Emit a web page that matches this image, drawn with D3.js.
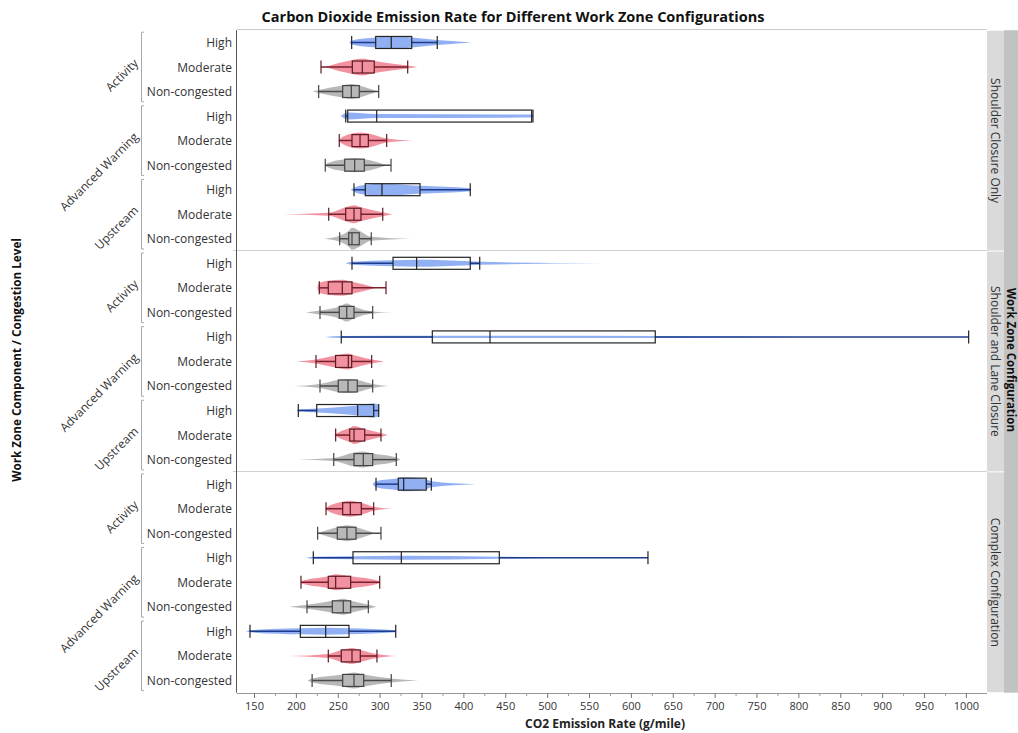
<!DOCTYPE html>
<html><head><meta charset="utf-8">
<script src="https://cdn.jsdelivr.net/npm/d3@7"></script>
<style>body{margin:0;background:#fff} svg text{font-family:"Open Sans",sans-serif;}</style>
</head><body><svg id="c" width="1018" height="733"></svg>
<script>
const configs = ["Shoulder Closure Only", "Shoulder and Lane Closure", "Complex Configuration"];
const components = ["Activity", "Advanced Warning", "Upstream"];
const levels = ["High", "Moderate", "Non-congested"];
// rows ordered: configuration > component > congestion level
const whiskerLow = [266.6, 230.0, 227.2, 259.5, 251.8, 235.1, 269.4, 239.2, 252.3,
                    267.0, 228.0, 228.8, 254.2, 224.0, 228.8, 202.9, 247.5, 245.2,
                    295.7, 236.0, 226.0, 220.8, 206.1, 213.3, 145.2, 238.7, 219.4];
const q1 = [295.3, 267.4, 255.9, 261.9, 267.0, 258.3, 282.9, 259.5, 263.1,
            316.0, 238.7, 251.8, 362.9, 247.4, 250.6, 224.9, 264.3, 269.4,
            322.3, 255.9, 249.5, 268.2, 238.7, 243.5, 205.3, 254.2, 255.9];
const median = [313.9, 279.3, 266.2, 296.5, 276.6, 270.2, 302.8, 269.4, 267.0,
                344.2, 255.4, 260.7, 431.8, 262.6, 262.2, 273.8, 269.4, 280.5,
                328.7, 265.0, 261.0, 325.9, 247.5, 256.6, 235.6, 267.0, 269.4];
const q3 = [338.3, 293.6, 275.7, 481.5, 286.5, 281.7, 348.2, 277.7, 275.7,
            408.2, 267.0, 269.4, 629.1, 266.6, 273.3, 292.9, 282.2, 291.7,
            355.7, 278.1, 271.8, 442.9, 265.4, 265.4, 263.4, 276.9, 281.0];
const whiskerHigh = [368.8, 333.5, 298.9, 483.1, 308.4, 313.6, 408.2, 303.7, 290.0,
                     419.5, 307.6, 291.7, 1003.3, 290.5, 291.7, 298.9, 301.6, 319.9,
                     361.7, 292.9, 301.6, 620.4, 300.1, 286.5, 319.2, 296.8, 313.9];
const violinMin = [264, 235, 220, 253.5, 250.6, 235, 265.4, 185, 234,
                   259.5, 225.6, 212.1, 234.8, 200.1, 196.9, 201, 245.9, 202.9,
                   291.7, 234.8, 226, 212.9, 205.8, 192.1, 140.1, 192.1, 214];
const violinMax = [410, 345, 297, 482, 340, 309, 409, 315, 338,
                   568, 296, 315.1, 800, 305.2, 310.3, 299.5, 309.6, 325.1,
                   414.7, 314.4, 294, 520, 301, 296.5, 320, 319.2, 346.2];
// relative density read at [whiskerLow, q1, median, q3, whiskerHigh]
const violinDensity = [
  [2, 5, 6.5, 5, 2.5], [1.5, 7, 8.5, 6, 1.5], [1.5, 6, 7.5, 6, 1], [3, 3.5, 2, 1.5, 1], [1, 7, 8, 7, 2], [1, 6, 7, 6, 1], [2, 5, 6, 4, 1.5], [1.5, 7, 9, 7, 2], [3, 8, 11, 8, 2],
  [1.5, 3, 3.5, 2, 1.5], [5, 7, 8, 6, 1], [2, 6, 9, 6, 1], [1, 1.2, 1.2, 1, 0.5], [2, 6, 8, 7, 2], [2, 6, 7, 6, 2], [1, 2, 5, 7, 6], [1, 7, 9, 6, 2], [1.5, 7, 8, 6, 2],
  [3, 6, 7, 5, 3], [1, 7, 8, 6, 2], [1, 6, 8, 6, 1], [1, 1.5, 2, 1, 0.5], [1, 6, 8, 6, 1], [2, 6, 8, 6, 2], [1, 3, 3.5, 3, 1], [2, 6, 8, 6, 2], [2, 6, 8, 6, 2]
];
const xTickValues = [150, 200, 250, 300, 350, 400, 450, 500, 550, 600, 650, 700, 750, 800, 850, 900, 950, 1000];
const xMinorTicks = [175, 225, 275, 325, 375, 425, 475, 525, 575, 625, 675, 725, 775, 825, 875, 925, 975];

const W = 1018, H = 733;
const M = {left: 237, right: 987, top: 30.2, bottom: 692.7};
const svg = d3.select("#c");

const levelFill = {"High": "#7ea2f2", "Moderate": "#f07f8f", "Non-congested": "#acacac"};
const levelWhisker = {"High": "#1d3b8c", "Moderate": "#7a1f2b", "Non-congested": "#4a4a4a"};
const levelBox = {"High": "#222222", "Moderate": "#5c1a22", "Non-congested": "#444444"};

const x = d3.scaleLinear().domain([129.7, 1025.2]).range([M.left, M.right]);
const panelY = d3.scaleBand().domain(configs).range([M.top, M.bottom]);
const rowKeys = [];
components.forEach(c => levels.forEach(l => rowKeys.push(c + "|" + l)));
const rowY = d3.scaleBand().domain(rowKeys).range([0, panelY.bandwidth()]);
const dens = d3.scaleLinear().domain([0, 11]).range([0, 11]);

const rows = [];
configs.forEach((cf, ci) => components.forEach((cp, gi) => levels.forEach((lv, li) => {
  const i = ci * 9 + gi * 3 + li;
  rows.push({i, cf, cp, lv, cy: panelY(cf) + rowY(cp + "|" + lv) + rowY.bandwidth() / 2});
})));

// title
svg.append("text").attr("x", 513).attr("y", 22).attr("text-anchor", "middle")
  .style("font-weight", "bold").style("font-size", "14.5px").attr("fill", "#111")
  .text("Carbon Dioxide Emission Rate for Different Work Zone Configurations");

// frame
svg.append("line").attr("x1", M.left).attr("x2", M.right).attr("y1", M.top - 0.7).attr("y2", M.top - 0.7).attr("stroke", "#c8c8c8");
configs.slice(1).forEach(cf => {
  const yy = Math.round(panelY(cf)) - 0.5;
  svg.append("line").attr("x1", 233).attr("x2", M.right).attr("y1", yy).attr("y2", yy).attr("stroke", "#d0d0d0");
});

// clip
svg.append("clipPath").attr("id", "pc").append("rect").attr("x", M.left).attr("y", M.top).attr("width", M.right - M.left).attr("height", M.bottom - M.top);
const g = svg.append("g").attr("clip-path", "url(#pc)");

const area = d3.area().x(d => x(d[0])).curve(d3.curveMonotoneX);

rows.forEach(r => {
  const i = r.i, cy = r.cy, d = violinDensity[i];
  const vmin = violinMin[i], vmax = violinMax[i];
  const knots = [[whiskerLow[i], d[0]], [q1[i], d[1]], [median[i], d[2]], [q3[i], d[3]], [whiskerHigh[i], d[4]]]
    .filter(p => p[0] > vmin && p[0] < vmax);
  const pts = [[vmin, 0], ...knots, [vmax, 0]].sort((a, b) => a[0] - b[0]);
  g.append("path").datum(pts)
    .attr("d", area.y0(p => cy - dens(p[1])).y1(p => cy + dens(p[1])))
    .attr("fill", levelFill[r.lv]).attr("fill-opacity", 0.85);
  const wc = levelWhisker[r.lv], bc = levelBox[r.lv];
  g.append("line").attr("x1", x(whiskerLow[i])).attr("x2", x(q1[i])).attr("y1", cy).attr("y2", cy).attr("stroke", wc).attr("stroke-width", 1.5);
  g.append("line").attr("x1", x(q3[i])).attr("x2", x(whiskerHigh[i])).attr("y1", cy).attr("y2", cy).attr("stroke", wc).attr("stroke-width", 1.5);
  [whiskerLow[i], whiskerHigh[i]].forEach(v => {
    g.append("line").attr("x1", x(v)).attr("x2", x(v)).attr("y1", cy - 6.5).attr("y2", cy + 6.5).attr("stroke", bc).attr("stroke-width", 1.2);
  });
  g.append("rect").attr("x", x(q1[i])).attr("y", cy - 6).attr("width", x(q3[i]) - x(q1[i])).attr("height", 12)
    .attr("fill", "none").attr("stroke", bc).attr("stroke-width", 1.2);
  g.append("line").attr("x1", x(median[i])).attr("x2", x(median[i])).attr("y1", cy - 6).attr("y2", cy + 6).attr("stroke", bc).attr("stroke-width", 1.2);
});

// left axis line
svg.append("line").attr("x1", M.left - 0.5).attr("x2", M.left - 0.5).attr("y1", M.top).attr("y2", M.bottom).attr("stroke", "#555");

// x axis
const ax = svg.append("g").attr("transform", `translate(0,${Math.round(M.bottom)})`);
ax.append("line").attr("x1", M.left).attr("x2", M.right).attr("y1", 0.5).attr("y2", 0.5).attr("stroke", "#999");
ax.call(d3.axisBottom(x).tickValues(xTickValues).tickFormat(d3.format("d")).tickSize(5).tickSizeOuter(0))
  .call(s => s.select(".domain").remove())
  .call(s => s.selectAll(".tick line").attr("stroke", "#777"))
  .call(s => s.selectAll(".tick text").attr("fill", "#333").style("font-size", "11px").style("font-family", "Open Sans, sans-serif").attr("y", 9));
ax.selectAll(".minor").data(xMinorTicks).join("line").attr("class", "minor")
  .attr("x1", v => x(v) + 0.5).attr("x2", v => x(v) + 0.5).attr("y1", 0).attr("y2", 3).attr("stroke", "#999");

svg.append("text").attr("x", 605).attr("y", 728).attr("text-anchor", "middle")
  .style("font-weight", "bold").style("font-size", "12px").attr("fill", "#222").text("CO2 Emission Rate (g/mile)");

// row labels
rows.forEach(r => {
  svg.append("text").attr("x", 232).attr("y", r.cy + 4.5).attr("text-anchor", "end")
    .style("font-size", "12px").attr("fill", "#333").text(r.lv);
});
// component brackets and labels
configs.forEach(cf => components.forEach(cp => {
  const top = panelY(cf) + rowY(cp + "|" + levels[0]) + 2;
  const bot = panelY(cf) + rowY(cp + "|" + levels[2]) + rowY.bandwidth() - 2;
  svg.append("path").attr("d", `M144,${top}H141.5V${bot}H144`).attr("fill", "none").attr("stroke", "#a8a8a8");
  const mid = panelY(cf) + rowY(cp + "|" + levels[1]) + rowY.bandwidth() / 2;
  svg.append("text").attr("transform", `translate(139,${mid - 3}) rotate(-45)`).attr("text-anchor", "end")
    .style("font-size", "12px").attr("fill", "#333").text(cp);
}));
svg.append("text").attr("transform", `translate(21,360) rotate(-90)`).attr("text-anchor", "middle")
  .style("font-weight", "bold").style("font-size", "11.7px").attr("fill", "#111").text("Work Zone Component / Congestion Level");

// right strips
configs.forEach(cf => {
  svg.append("rect").attr("x", M.right).attr("y", panelY(cf) + 0.5).attr("width", 17).attr("height", panelY.bandwidth() - 1).attr("fill", "#dadada");
  svg.append("text").attr("transform", `translate(${M.right + 8.5},${panelY(cf) + panelY.bandwidth() / 2}) rotate(90)`)
    .attr("text-anchor", "middle").attr("dy", "0.35em").style("font-size", "12px").attr("fill", "#333").text(cf);
});
svg.append("rect").attr("x", M.right + 17).attr("y", M.top).attr("width", W - M.right - 17).attr("height", M.bottom - M.top).attr("fill", "#c2c2c2");
svg.append("text").attr("transform", `translate(${M.right + 24.5},360) rotate(90)`).attr("text-anchor", "middle").attr("dy", "0.35em")
  .style("font-weight", "bold").style("font-size", "11.5px").attr("fill", "#111").text("Work Zone Configuration");
</script></body></html>
